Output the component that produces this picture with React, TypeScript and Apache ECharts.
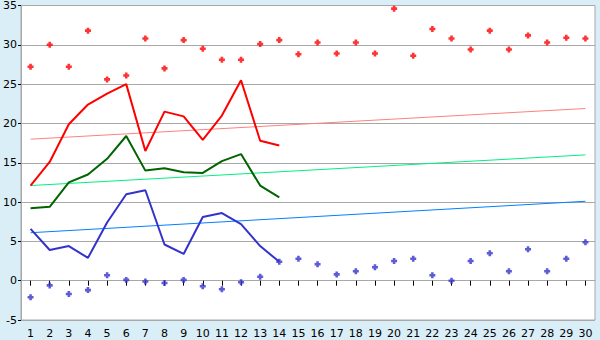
import React, { useEffect, useRef } from "react";
import * as echarts from "echarts";

const categories = Array.from({ length: 30 }, (_, i) => String(i + 1));

const redLine = [12.1, 15.1, 19.9, 22.4, 23.8, 25.0, 16.5, 21.5, 20.9, 17.9, 21.0, 25.5, 17.8, 17.2];
const greenLine = [9.2, 9.4, 12.5, 13.5, 15.5, 18.4, 14.0, 14.3, 13.8, 13.7, 15.2, 16.1, 12.1, 10.6];
const blueLine = [6.6, 3.9, 4.4, 2.9, 7.4, 11.0, 11.5, 4.6, 3.4, 8.1, 8.6, 7.2, 4.4, 2.4];

const redPoints = [
  27.2, 30.0, 27.2, 31.8, 25.6, 26.1, 30.8, 27.0, 30.6, 29.5,
  28.1, 28.1, 30.1, 30.6, 28.8, 30.3, 28.9, 30.3, 28.9, 34.6,
  28.6, 32.0, 30.8, 29.4, 31.8, 29.4, 31.2, 30.3, 30.9, 30.8,
];
const bluePoints = [
  -2.1, -0.6, -1.7, -1.2, 0.7, 0.1, -0.1, -0.3, 0.1, -0.7,
  -1.1, -0.2, 0.5, 2.4, 2.8, 2.1, 0.8, 1.2, 1.7, 2.5,
  2.8, 0.7, 0.0, 2.5, 3.5, 1.2, 4.0, 1.2, 2.8, 4.9,
];

// trend lines: endpoints (first and last category)
const redTrend = [18.0, 21.9];
const greenTrend = [12.1, 16.0];
const blueTrend = [6.1, 10.1];

const yTicks = { min: -5, max: 35, interval: 5 };

const plusSymbol = "path://M2,0H5V2H7V5H5V7H2V5H0V2H2Z";

export default function App() {
  const ref = useRef<HTMLDivElement>(null);
  useEffect(() => {
    if (!ref.current) return;
    const chart = echarts.init(ref.current, null, { renderer: "svg" });
    const font = { fontFamily: "DejaVu Sans", fontSize: 11, color: "#000" };
    const trend = (vals: number[]) => [
      [categories[0], vals[0]],
      [categories[categories.length - 1], vals[1]],
    ];
    chart.setOption({
      animation: false,
      backgroundColor: "#d9eef6",
      grid: {
        left: 20,
        right: 5,
        top: 5,
        bottom: 20,
        show: true,
        backgroundColor: "#ffffff",
        borderColor: "#a8a8a8",
        borderWidth: 1,
      },
      xAxis: {
        type: "category",
        data: categories,
        boundaryGap: true,
        axisLine: { show: true, lineStyle: { color: "#a8a8a8", width: 1 } },
        axisTick: { show: true, alignWithLabel: true, length: 5, lineStyle: { color: "#000" } },
        axisLabel: { ...font, margin: 8, interval: 0 },
        splitLine: { show: false },
      },
      yAxis: {
        type: "value",
        min: yTicks.min,
        max: yTicks.max,
        interval: yTicks.interval,
        axisLine: { show: true, lineStyle: { color: "#a8a8a8", width: 1 } },
        axisTick: { show: true, length: 3, lineStyle: { color: "#000" } },
        axisLabel: { ...font, margin: 4 },
        splitLine: { show: true, lineStyle: { color: "#a8a8a8", width: 1 } },
      },
      series: [
        {
          type: "line",
          data: trend(redTrend),
          showSymbol: false,
          lineStyle: { color: "#ff8080", width: 1 },
          z: 1,
        },
        {
          type: "line",
          data: trend(greenTrend),
          showSymbol: false,
          lineStyle: { color: "#00f080", width: 1 },
          z: 1,
        },
        {
          type: "line",
          data: trend(blueTrend),
          showSymbol: false,
          lineStyle: { color: "#0080ff", width: 1 },
          z: 1,
        },
        {
          type: "line",
          data: redLine,
          showSymbol: false,
          lineStyle: { color: "#ff0000", width: 2 },
          z: 2,
        },
        {
          type: "line",
          data: greenLine,
          showSymbol: false,
          lineStyle: { color: "#006400", width: 2 },
          z: 2,
        },
        {
          type: "line",
          data: blueLine,
          showSymbol: false,
          lineStyle: { color: "#3333cc", width: 2 },
          z: 2,
        },
        {
          type: "scatter",
          data: redPoints,
          symbol: plusSymbol,
          symbolSize: 6,
          itemStyle: { color: "#ff0000" },
          z: 3,
        },
        {
          type: "scatter",
          data: bluePoints,
          symbol: plusSymbol,
          symbolSize: 6,
          itemStyle: { color: "#3333cc" },
          z: 3,
        },
      ],
    });
    return () => chart.dispose();
  }, []);
  return (
    <div
      ref={ref}
      style={{ position: "fixed", left: 0, top: 0, width: 600, height: 340 }}
    />
  );
}
